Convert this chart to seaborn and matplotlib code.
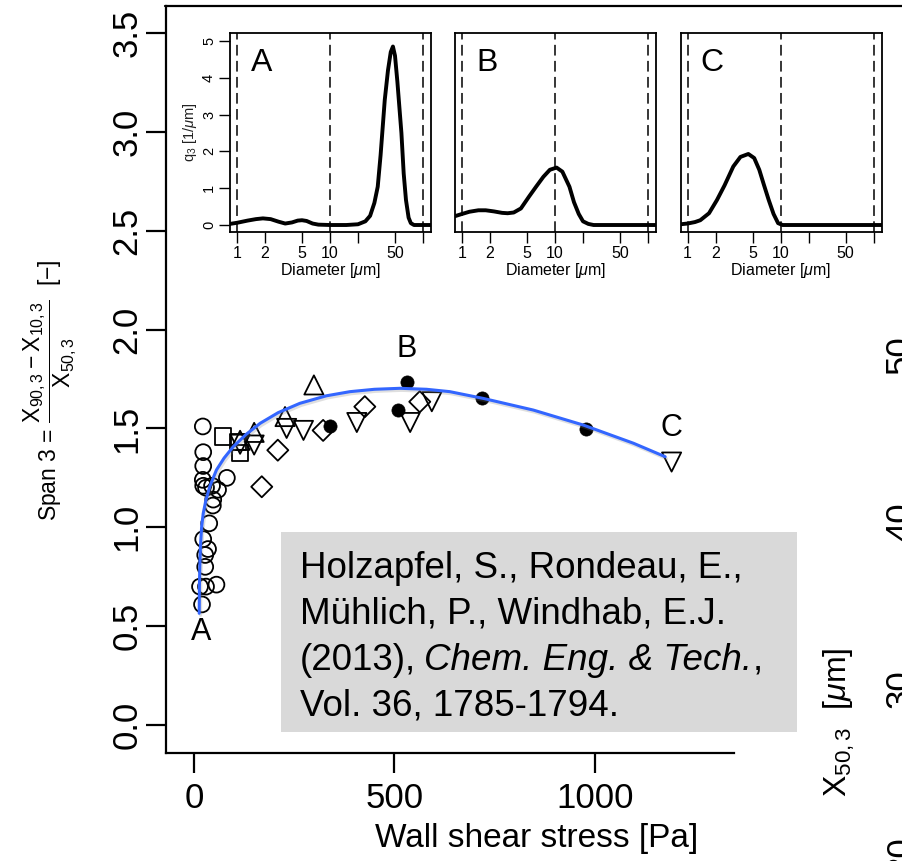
import numpy as np
import pandas as pd
import matplotlib
matplotlib.use("Agg")
import matplotlib.pyplot as plt
import seaborn as sns
from matplotlib.lines import Line2D
from matplotlib.patches import Rectangle
from matplotlib.text import Annotation
import matplotlib.patheffects as pe

# ---------------- data ----------------
# main scatter: wall shear stress [Pa] vs Span 3 [-]
circle_x = [22, 23, 23, 22, 23, 30, 45, 82, 60, 48, 47, 38, 23, 35, 28, 28, 15, 30, 56, 20]
circle_y = [1.51, 1.38, 1.31, 1.24, 1.21, 1.20, 1.21, 1.25, 1.19, 1.14, 1.11, 1.02, 0.94, 0.89, 0.86, 0.80, 0.70, 0.70, 0.71, 0.61]
square_x = [73, 115, 110]
square_y = [1.46, 1.375, 1.43]
up_x = [299, 150, 115, 227]
up_y = [1.72, 1.48, 1.44, 1.56]
down_x = [150, 231, 273, 406, 539, 593, 1191, 115]
down_y = [1.416, 1.50, 1.49, 1.53, 1.53, 1.635, 1.33, 1.42]
diamond_x = [169, 209, 322, 426, 563]
diamond_y = [1.205, 1.39, 1.49, 1.61, 1.635]
filled_x = [339, 532, 509, 719, 977]
filled_y = [1.51, 1.737, 1.593, 1.652, 1.496]

# fitted trend curve
fit_x = [13, 13.5, 14.5, 16, 19, 23, 30, 40, 56, 75, 98, 130, 165, 210, 264, 330, 389,
         450, 514, 580, 638, 721, 846, 971, 1096, 1175]
fit_y = [0.565, 0.70, 0.80, 0.90, 1.00, 1.07, 1.14, 1.21, 1.29, 1.35, 1.408, 1.47, 1.526,
         1.58, 1.627, 1.665, 1.686, 1.698, 1.703, 1.698, 1.686, 1.652, 1.593, 1.517, 1.425, 1.357]

point_labels = ["A", "B", "C"]
label_x = [17, 531, 1190]
label_y = [0.47, 1.90, 1.50]

# inset size distributions: diameter [um] vs q3 [1/um]
a_d = [0.84, 1.0, 1.3, 1.6, 1.9, 2.3, 2.8, 3.3, 3.9, 4.5, 5.0, 5.6, 6.5, 7.5, 10, 15, 20, 24,
       27, 30, 32.6, 35, 38.8, 42, 45, 47.5, 50, 53, 58.6, 62, 65.6, 70, 74, 80, 122]
a_q = [0.03, 0.06, 0.12, 0.16, 0.18, 0.16, 0.09, 0.04, 0.07, 0.12, 0.13, 0.11, 0.04, 0.01,
       0.0, 0.0, 0.02, 0.10, 0.25, 0.60, 1.04, 1.9, 3.4, 4.2, 4.7, 4.85, 4.6, 3.9, 2.5, 1.4,
       0.68, 0.2, 0.05, 0.0, 0.0]
b_d = [0.84, 1.0, 1.2, 1.5, 1.8, 2.2, 2.7, 3.1, 3.6, 4.3, 5.25, 6.3, 7.5, 8.8, 10.4, 12,
       14.3, 16, 18, 20, 22.8, 26, 122]
b_q = [0.24, 0.30, 0.36, 0.40, 0.40, 0.37, 0.33, 0.32, 0.34, 0.45, 0.77, 1.05, 1.31, 1.50,
       1.56, 1.45, 1.04, 0.62, 0.30, 0.10, 0.03, 0.0, 0.0]
c_d = [0.84, 1.0, 1.2, 1.37, 1.7, 2.07, 2.5, 3.1, 3.7, 4.5, 5.2, 5.9, 6.6, 7.45, 8.4, 9.4,
       10.5, 122]
c_q = [0.02, 0.04, 0.08, 0.13, 0.32, 0.68, 1.08, 1.59, 1.85, 1.93, 1.82, 1.50, 1.10, 0.68,
       0.30, 0.05, 0.0, 0.0]
inset_names = ["A", "B", "C"]
inset_xticks = [1, 2, 5, 10, 20, 50, 100]
inset_xticklabels = ["1", "2", "5", "10", "", "50", ""]
inset_dashed = [1, 10, 100]

main_xticks = [0, 500, 1000]
main_yticks = [0.0, 0.5, 1.0, 1.5, 2.0, 2.5, 3.0, 3.5]
right_ticks = ["50", "40", "30", "20"]

citation_lines = ["Holzapfel, S., Rondeau, E.,",
                  "Mühlich, P., Windhab, E.J.",
                  "(2013),",
                  "Vol. 36, 1785-1794."]
citation_italic = "Chem. Eng. & Tech."

# ---------------- style ----------------
sns.set_style("white")
plt.rcParams["font.family"] = ["Liberation Sans", "DejaVu Sans"]
plt.rcParams["mathtext.fontset"] = "custom"
plt.rcParams["mathtext.rm"] = "Liberation Sans"
plt.rcParams["mathtext.it"] = "Liberation Sans:italic"
plt.rcParams["mathtext.bf"] = "Liberation Sans:bold"
plt.rcParams["axes.unicode_minus"] = True
plt.rcParams["text.color"] = "black"
plt.rcParams["axes.labelcolor"] = "black"

W, H = 902, 861
fig = plt.figure(figsize=(W / 100, H / 100), dpi=100)
fig.patch.set_facecolor("white")


def fx(px):
    return px / W


def fy(py):
    return 1 - py / H


# ---------------- main axes ----------------
ax = fig.add_axes([fx(166), fy(752.7), (734 - 166) / W, (752.7 - 5.7) / H])
ax.set_facecolor("none")
ax.set_xlim(-69.8, 1346.6)
ax.set_ylim(-0.140, 3.638)
for s in ["top", "right"]:
    ax.spines[s].set_visible(False)
for s in ["left", "bottom"]:
    ax.spines[s].set_linewidth(1.6)
    ax.spines[s].set_color("black")
ax.set_xticks(main_xticks)
ax.set_xticklabels([str(v) for v in main_xticks])
ax.set_yticks(main_yticks)
ax.set_yticklabels([f"{v:.1f}" for v in main_yticks])
ax.tick_params(axis="both", direction="out", length=14.4, width=1.6, labelsize=25,
               colors="black", left=True, bottom=True)
ax.tick_params(axis="x", pad=7)
ax.tick_params(axis="y", pad=2)
for t in ax.get_yticklabels():
    t.set_rotation(90)
    t.set_va("center")

groups = [
    (circle_x, circle_y, "o", 130, False),
    (square_x, square_y, "s", 140, False),
    (up_x, up_y, "^", 190, False),
    (down_x, down_y, "v", 190, False),
    (diamond_x, diamond_y, "D", 115, False),
    (filled_x, filled_y, "o", 90, True),
]
for gx, gy, mk, sz, filled in groups:
    df = pd.DataFrame({"x": gx, "y": gy})
    sns.scatterplot(data=df, x="x", y="y", ax=ax, marker=mk, s=sz, legend=False, zorder=3,
                    color="black", linewidth=1.3)
    coll = ax.collections[-1]
    coll.set_edgecolor("black")
    coll.set_facecolor("black" if filled else "none")
    coll.set_linewidth(1.3 if not filled else 0.5)

fit_df = pd.DataFrame({"x": fit_x, "y": fit_y})
sns.lineplot(data=fit_df, x="x", y="y", ax=ax, color="#3366ff", lw=2.2, sort=False,
             zorder=4, legend=False,
             path_effects=[pe.SimpleLineShadow(offset=(1, -1.5), alpha=0.25, shadow_color="gray"),
                           pe.Normal()])

for lab, lx, ly in zip(point_labels, label_x, label_y):
    ax.text(lx, ly, lab, ha="center", va="center", fontsize=22, color="black")

ax.set_xlabel("Wall shear stress [Pa]", fontsize=24, va="center", color="black")
ax.xaxis.set_label_coords((537 - 166) / 568, (H - 838 - 108.3) / 747)
ax.set_ylabel("")

# y label (outside, figure text)
fig.text(fx(50), fy(390),
         r"Span 3 = $\dfrac{\mathrm{X}_{90,3}-\mathrm{X}_{10,3}}{\mathrm{X}_{50,3}}$  [−]",
         rotation=90, ha="center", va="center", fontsize=16.5, color="black")

# top frame line extending to the right
fig.add_artist(Line2D([fx(165.2), 1.0], [fy(5.7), fy(5.7)], transform=fig.transFigure,
                      color="black", lw=1.6))

# citation box
fig.add_artist(Rectangle((fx(281), fy(732)), (797 - 281) / W, (732 - 532) / H,
                         transform=fig.transFigure, facecolor="#d9d9d9", edgecolor="none",
                         zorder=5))
cit_texts = []
for i, line in enumerate(citation_lines):
    t = fig.text(fx(300), fy(578 + 46 * i), line, ha="left", va="baseline", fontsize=26.5,
                 color="black", zorder=6)
    cit_texts.append(t)
t_it = Annotation(citation_italic, xy=(1, 0), xycoords=cit_texts[2], xytext=(6, 0),
                  textcoords="offset points", ha="left", va="bottom", fontsize=26.5,
                  fontstyle="italic", color="black", zorder=7, annotation_clip=False)
fig.add_artist(t_it)
t_comma = Annotation(",", xy=(1, 0), xycoords=t_it, xytext=(0, 0), textcoords="offset points",
                     ha="left", va="bottom", fontsize=26.5, color="black", zorder=7,
                     annotation_clip=False)
fig.add_artist(t_comma)

# partial neighbouring axis at the right edge (cut by the image edge, as in the original)
for i, lab in enumerate(right_ticks):
    fig.text(fx(884), fy(355 + 167 * i), lab, rotation=90, ha="left", va="center",
             fontsize=25, color="black")
fig.text(fx(822), fy(722), r"X$_{50,3}$  [$\mu$m]", rotation=90, ha="left", va="center",
         fontsize=23, color="black")

# ---------------- insets ----------------
inset_lefts = [230, 455, 680.6]
inset_data = [(a_d, a_q), (b_d, b_q), (c_d, c_q)]
for k, (left, (dd, qq), name) in enumerate(zip(inset_lefts, inset_data, inset_names)):
    iax = fig.add_axes([fx(left), fy(232), 201 / W, 199 / H])
    iax.set_facecolor("white")
    iax.set_xscale("log")
    iax.set_xlim(0.841, 121.9)
    iax.set_ylim(-0.19, 5.217)
    for s in iax.spines.values():
        s.set_visible(True)
        s.set_linewidth(1.3)
        s.set_color("black")
    for xv in inset_dashed:
        iax.axvline(xv, color="black", lw=1.1, ls=(0, (7, 3.5)), zorder=1)
    df = pd.DataFrame({"d": dd, "q": qq})
    sns.lineplot(data=df, x="d", y="q", ax=iax, color="black", lw=2.8, zorder=3, legend=False)
    iax.set_xticks(inset_xticks)
    iax.set_xticklabels(inset_xticklabels)
    iax.xaxis.set_minor_locator(matplotlib.ticker.NullLocator())
    iax.tick_params(axis="x", direction="out", length=8, width=1.0, labelsize=11.5, pad=2,
                    bottom=True, colors="black")
    iax.set_xlabel(r"Diameter [$\mu$m]", fontsize=11.5, labelpad=0, color="black")
    if k == 0:
        iax.set_yticks([0, 1, 2, 3, 4, 5])
        iax.set_yticklabels(["0", "1", "2", "3", "4", "5"])
        iax.tick_params(axis="y", direction="out", length=8, width=1.0, labelsize=10.5,
                        pad=2, left=True, colors="black")
        for t in iax.get_yticklabels():
            t.set_rotation(90)
            t.set_va("center")
        iax.set_ylabel(r"q$_3$ [1/$\mu$m]", fontsize=10.5, labelpad=2, color="#222222")
    else:
        iax.set_yticks([])
        iax.set_ylabel("")
    iax.text(0.158, 0.85, name, transform=iax.transAxes, ha="center", va="center",
             fontsize=23, color="black")

fig.savefig("out.png", dpi=100)
